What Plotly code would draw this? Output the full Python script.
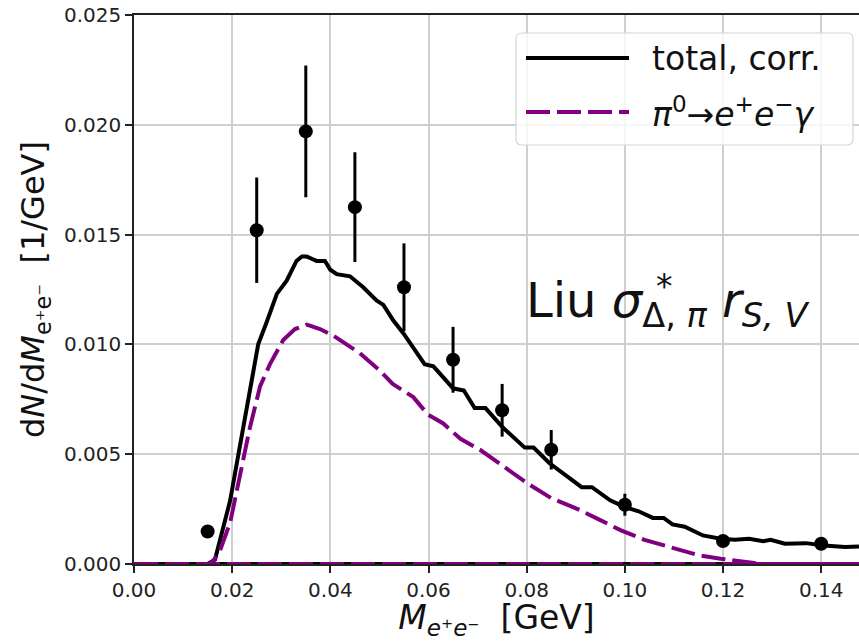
import plotly.graph_objects as go

# ---- data ----
data_x = [0.015, 0.025, 0.035, 0.045, 0.055, 0.065, 0.075, 0.085, 0.100, 0.120, 0.140]
data_y = [0.00148, 0.0152, 0.0197, 0.01625, 0.0126, 0.0093, 0.0070, 0.0052, 0.0027, 0.00105, 0.00092]
data_err = [0.00005, 0.0024, 0.0030, 0.0025, 0.0020, 0.0015, 0.0012, 0.0009, 0.0005, 0.0002, 0.00015]

total_x = [0.0150, 0.0165, 0.0172, 0.0184, 0.0196, 0.0212, 0.0233, 0.0250, 0.0253, 0.0270,
           0.0291, 0.0311, 0.0331, 0.0342, 0.0352, 0.0362, 0.0372, 0.0389, 0.0400, 0.0413,
           0.0440, 0.0467, 0.0494, 0.0508, 0.0528, 0.0549, 0.0570, 0.0592, 0.0610, 0.0630,
           0.0650, 0.0672, 0.0694, 0.0716, 0.0752, 0.0796, 0.0814, 0.0846, 0.0875, 0.0912,
           0.0933, 0.0970, 0.0999, 0.1028, 0.1057, 0.1079, 0.1097, 0.1122, 0.1159, 0.1195,
           0.1224, 0.1253, 0.1282, 0.1297, 0.1326, 0.1369, 0.1405, 0.1449, 0.1477]
total_y = [0.0, 0.0002, 0.0008, 0.0018, 0.0029, 0.0049, 0.0075, 0.0097, 0.0100, 0.0110,
           0.0123, 0.0129, 0.0138, 0.0140, 0.0140, 0.0139, 0.0138, 0.0138, 0.0134, 0.0132,
           0.0131, 0.0126, 0.0120, 0.0118, 0.0111, 0.0105, 0.0098, 0.0091, 0.0090, 0.0085,
           0.0080, 0.0079, 0.0071, 0.0071, 0.0062, 0.0053, 0.0053, 0.0046, 0.0041, 0.0035,
           0.0035, 0.0029, 0.0026, 0.0024, 0.0021, 0.0021, 0.0018, 0.0017, 0.0013, 0.00115,
           0.0011, 0.00115, 0.00104, 0.0011, 0.00092, 0.00095, 0.00084, 0.00077, 0.0008]

pi0_x = [0.0150, 0.0160, 0.0175, 0.0196, 0.0219, 0.0236, 0.0257, 0.0277, 0.0304, 0.0328,
         0.0352, 0.0379, 0.0406, 0.0433, 0.0460, 0.0501, 0.0527, 0.0569, 0.0599, 0.0630,
         0.0665, 0.0705, 0.0750, 0.0803, 0.0850, 0.0904, 0.0950, 0.0992, 0.1040, 0.1093,
         0.1150, 0.1195, 0.1238, 0.1282, 0.1477]
pi0_y = [0.0, 0.0001, 0.0006, 0.0019, 0.0043, 0.0062, 0.0081, 0.0091, 0.0102, 0.0107,
         0.0109, 0.0107, 0.0104, 0.0100, 0.0096, 0.0088, 0.0082, 0.0076, 0.0068, 0.0064,
         0.0057, 0.0052, 0.0045, 0.00365, 0.0030, 0.0025, 0.0020, 0.00153, 0.0011, 0.00077,
         0.0004, 0.00024, 0.0001, 0.0, 0.0]

zero_x = [0.0, 0.1477]
zero_y = [0.0, 0.0]

x_range = [0.0, 0.1477]
y_range = [0.0, 0.025]
x_ticks = [0.00, 0.02, 0.04, 0.06, 0.08, 0.10, 0.12, 0.14]
x_ticktext = ["0.00", "0.02", "0.04", "0.06", "0.08", "0.10", "0.12", "0.14"]
y_ticks = [0.000, 0.005, 0.010, 0.015, 0.020, 0.025]
y_ticktext = ["0.000", "0.005", "0.010", "0.015", "0.020", "0.025"]

legend_labels = ["total, corr.",
                 "<i>π</i><sup>0</sup>→<i>e</i><sup>+</sup><i>e</i><sup>−</sup><i>γ</i>"]

PURPLE = "#800080"
FONT = "DejaVu Sans"
DASH = "24px,7px"

fig = go.Figure()

# zero-valued components along baseline
fig.add_trace(go.Scatter(x=zero_x, y=zero_y, mode="lines",
                         line=dict(color="black", width=4), showlegend=False, hoverinfo="skip"))
fig.add_trace(go.Scatter(x=zero_x, y=zero_y, mode="lines",
                         line=dict(color=PURPLE, width=4, dash=DASH), showlegend=False, hoverinfo="skip"))

fig.add_trace(go.Scatter(x=[0.0] + total_x, y=[0.0] + total_y, mode="lines",
                         line=dict(color="black", width=4), showlegend=False))
fig.add_trace(go.Scatter(x=[0.0] + pi0_x, y=[0.0] + pi0_y, mode="lines",
                         line=dict(color=PURPLE, width=4, dash=DASH), showlegend=False))

fig.add_trace(go.Scatter(x=data_x, y=data_y, mode="markers",
                         marker=dict(color="black", size=14),
                         error_y=dict(type="data", array=data_err, color="black",
                                      thickness=3, width=0),
                         showlegend=False))

# ---- layout geometry ----
W, H = 859, 641
ML, MR, MT, MB = 134, 0, 15, 77
PW = W - ML - MR
PH = H - MT - MB


def px(xp):
    return (xp - ML) / PW


def py(yp):
    return (H - MB - yp) / PH


shapes = []
# manual legend box with rounded corners
bx0, bx1, by0, by1 = px(516), px(853), py(145), py(33)
rx, ry = 6 / PW, 6 / PH
path = (f"M{bx0+rx},{by1} L{bx1-rx},{by1} Q{bx1},{by1} {bx1},{by1-ry} "
        f"L{bx1},{by0+ry} Q{bx1},{by0} {bx1-rx},{by0} L{bx0+rx},{by0} "
        f"Q{bx0},{by0} {bx0},{by0+ry} L{bx0},{by1-ry} Q{bx0},{by1} {bx0+rx},{by1} Z")
shapes.append(dict(type="path", xref="paper", yref="paper", path=path,
                   fillcolor="rgba(255,255,255,0.8)", line=dict(color="#d6d6d6", width=1.2),
                   layer="above"))
shapes.append(dict(type="line", xref="paper", yref="paper", x0=px(526), x1=px(629),
                   y0=py(58), y1=py(58), line=dict(color="black", width=4), layer="above"))
shapes.append(dict(type="line", xref="paper", yref="paper", x0=px(526), x1=px(629),
                   y0=py(112), y1=py(112), line=dict(color=PURPLE, width=4, dash=DASH),
                   layer="above"))

annotations = [
    dict(text=legend_labels[0], xref="paper", yref="paper", x=px(650), y=py(58),
         xanchor="left", yanchor="middle", showarrow=False,
         font=dict(family=FONT, size=33, color="#111111")),
    dict(text=legend_labels[1], xref="paper", yref="paper", x=px(650), y=py(112),
         xanchor="left", yanchor="middle", showarrow=False,
         font=dict(family=FONT, size=33, color="#111111")),
    dict(text="Liu <i>σ</i><sub>Δ, <i>π</i></sub> <i>r</i><sub><i>S, V</i></sub>",
         xref="paper", yref="paper", x=px(524), y=py(303),
         xanchor="left", yanchor="middle", showarrow=False,
         font=dict(family=FONT, size=48, color="#111111")),
    dict(text="*", xref="paper", yref="paper", x=px(664), y=py(286),
         xanchor="center", yanchor="middle", showarrow=False,
         font=dict(family=FONT, size=33, color="#111111")),
]

fig.update_layout(
    width=W, height=H,
    margin=dict(l=ML, r=MR, t=MT, b=MB, pad=0),
    paper_bgcolor="white", plot_bgcolor="white",
    font=dict(family=FONT, color="#222222"),
    shapes=shapes, annotations=annotations,
    showlegend=False,
    xaxis=dict(range=x_range, tickvals=x_ticks, ticktext=x_ticktext, automargin=False,
               showgrid=True, gridcolor="#cfcfcf", gridwidth=1.5,
               showline=True, linecolor="#222222", linewidth=1.5, mirror=True,
               ticks="outside", ticklen=7, tickwidth=1.5, tickcolor="#222222",
               tickfont=dict(family=FONT, size=20, color="#222222"),
               ticklabeloverflow="allow", zeroline=False,
               title=dict(text="<i>M</i><sub><i>e</i>⁺<i>e</i>⁻</sub>  [GeV]",
                          font=dict(family=FONT, size=33, color="#111111"), standoff=2)),
    yaxis=dict(range=y_range, tickvals=y_ticks, ticktext=y_ticktext, automargin=False,
               showgrid=True, gridcolor="#cfcfcf", gridwidth=1.5,
               showline=True, linecolor="#222222", linewidth=1.5, mirror=False,
               ticks="outside", ticklen=7, tickwidth=1.5, tickcolor="#222222",
               tickfont=dict(family=FONT, size=20, color="#222222"),
               ticklabeloverflow="allow", zeroline=False,
               title=dict(text="d<i>N</i>/d<i>M</i><sub>e⁺e⁻</sub>  [1/GeV]",
                          font=dict(family=FONT, size=32, color="#111111"), standoff=10)),
)

# remove the default 8px page margin so the 859x641 figure fills the window exactly
fig.write_html("out.html", config={"displayModeBar": False},
               post_script="document.body.style.margin='0';document.body.style.overflow='hidden';")
